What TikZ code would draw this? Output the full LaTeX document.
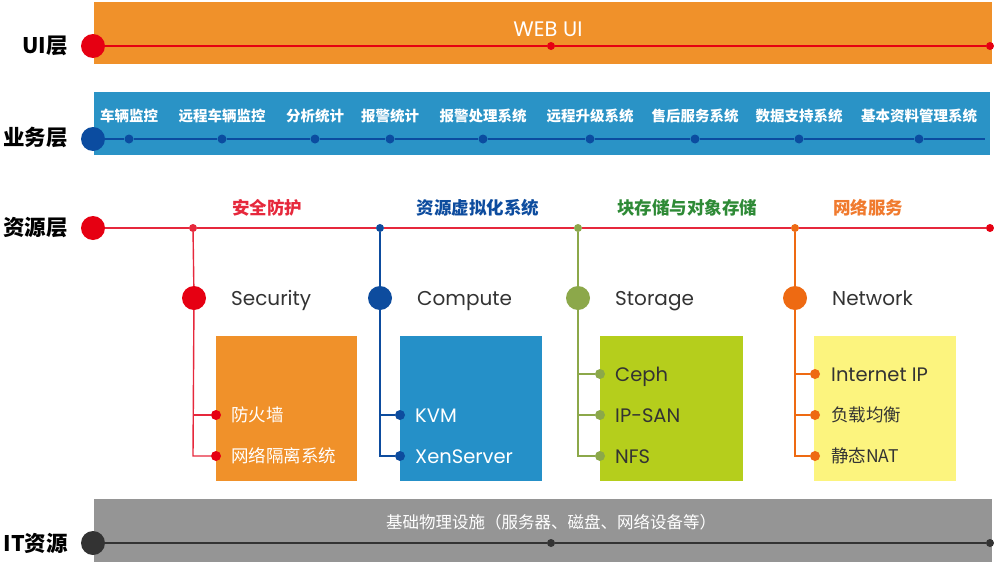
\documentclass[tikz,border=0pt]{standalone}
\usepackage{fontspec}
\setmainfont{Noto Sans CJK SC}
\newfontfamily\cjk{Noto Sans CJK SC}
\newfontfamily\lat{Poppins}
\definecolor{uiorange}{HTML}{F0912A}
\definecolor{uired}{HTML}{E60012}
\definecolor{resred}{HTML}{E6283C}
\definecolor{bizblue}{HTML}{2A93C6}
\definecolor{bizdark}{HTML}{0B4CA0}
\definecolor{secbox}{HTML}{F0912A}
\definecolor{compblue}{HTML}{0D4C9E}
\definecolor{compbox}{HTML}{2590C8}
\definecolor{storline}{HTML}{8CA84A}
\definecolor{storbox}{HTML}{B5CE1C}
\definecolor{stortext}{HTML}{2E8A36}
\definecolor{netorange}{HTML}{EE6A12}
\definecolor{netbox}{HTML}{FCF47E}
\definecolor{nettext}{HTML}{F07A2E}
\definecolor{itgray}{HTML}{959595}
\definecolor{darkline}{HTML}{333333}
\definecolor{txt}{HTML}{333333}
\begin{document}
\begin{tikzpicture}[x=1pt,y=-1pt,
  band/.style={rectangle,inner sep=0pt,draw=none},
  bigdot/.style={circle,inner sep=0pt,minimum size=24pt,fill=#1},
  smalldot/.style={circle,inner sep=0pt,minimum size=8pt,fill=#1},
  itemdot/.style={circle,inner sep=0pt,minimum size=10pt,fill=#1},
  layerlabel/.style={anchor=east,inner sep=0pt,text=black,font=\cjk\bfseries\fontsize{21.5}{21.5}\selectfont},
  biztext/.style={inner sep=0pt,text=white,font=\cjk\bfseries\fontsize{14.5}{14.5}\selectfont},
  header/.style={inner sep=0pt,font=\cjk\bfseries\fontsize{17.5}{17.5}\selectfont},
  colname/.style={anchor=base west,inner sep=0pt,text=txt,font=\lat\fontsize{20}{20}\selectfont},
  itemcjk/.style={anchor=base west,inner sep=0pt,font=\cjk\fontsize{17.5}{17.5}\selectfont},
  itemlat/.style={anchor=base west,inner sep=0pt,font=\lat\fontsize{19.5}{19.5}\selectfont},
  mainline/.style={line width=1.6pt},
  branch/.style={line width=1.4pt}
]
\useasboundingbox (0,0) rectangle (994,565);

% ---------- bands ----------
\node[band,fill=uiorange,minimum width=898pt,minimum height=62pt] (uiband) at (543,33) {};
\node[band,fill=bizblue,minimum width=896pt,minimum height=63pt] (bizband) at (542,123.5) {};
\node[band,fill=itgray,minimum width=898pt,minimum height=63pt] (itband) at (543,530.5) {};

% ---------- layer labels ----------
\node[layerlabel] (luil) at (68,46) {UI层};
\node[layerlabel] (lbiz) at (68,137) {业务层};
\node[layerlabel] (lres) at (68,228) {资源层};
\node[layerlabel] (lit) at (68,543) {IT资源};

% ---------- UI layer ----------
\node[bigdot=uired] (uic) at (93,46) {};
\node[smalldot=uired] (uimid) at (551,46) {};
\node[smalldot=uired] (uiend) at (990,46) {};
\draw[mainline,uired] (uic) -- (uimid) -- (uiend);
\node[inner sep=0pt,text=white,font=\lat\fontsize{21}{21}\selectfont] (webui) at (548,29) {WEB UI};

% ---------- business layer ----------
\node[bigdot=bizdark] (bizc) at (93,139) {};
\coordinate (bizend) at (985,139);
\foreach \x/\t [count=\i] in {129/车辆监控,222/远程车辆监控,315/分析统计,390/报警统计,483/报警处理系统,590/远程升级系统,695/售后服务系统,799/数据支持系统,919/基本资料管理系统}{
  \node[smalldot=bizdark,minimum size=9pt] (bd\i) at (\x,139) {};
  \node[biztext] (bt\i) at (\x,116) {\t};
}
\draw[mainline,bizdark] (bizc) -- (bd1);
\foreach \i [evaluate=\i as \j using int(\i+1)] in {1,...,8}{
  \draw[mainline,bizdark] (bd\i) -- (bd\j);
}
\draw[mainline,bizdark] (bd9) -- (bizend);

% ---------- resource layer ----------
\node[bigdot=uired] (resc) at (93,228) {};
\node[smalldot=resred] (rd1) at (193,228) {};
\node[smalldot=compblue] (rd2) at (380,228) {};
\node[smalldot=storline] (rd3) at (578,228) {};
\node[smalldot=netorange] (rd4) at (795,228) {};
\node[smalldot=uired] (resend) at (990,228) {};
\draw[mainline,resred] (resc) -- (rd1) -- (rd2) -- (rd3) -- (rd4) -- (resend);

\node[header,text=resred] (h1) at (267,208) {安全防护};
\node[header,text=compblue] (h2) at (478,208) {资源虚拟化系统};
\node[header,text=stortext] (h3) at (687,208) {块存储与对象存储};
\node[header,text=nettext] (h4) at (868,208) {网络服务};

% boxes
\node[band,fill=secbox,minimum width=141pt,minimum height=145pt] (box1) at (286.5,408.5) {};
\node[band,fill=compbox,minimum width=142pt,minimum height=145pt] (box2) at (471,408.5) {};
\node[band,fill=storbox,minimum width=143pt,minimum height=145pt] (box3) at (671.5,408.5) {};
\node[band,fill=netbox,minimum width=142pt,minimum height=145pt] (box4) at (885,408.5) {};

% column circles and names
\node[bigdot=uired] (c1) at (194,298) {};
\node[bigdot=compblue] (c2) at (380,298) {};
\node[bigdot=storline] (c3) at (578,298) {};
\node[bigdot=netorange] (c4) at (795,298) {};
\node[colname] (n1) at (231,305) {Security};
\node[colname] (n2) at (417,305) {Compute};
\node[colname] (n3) at (615,305) {Storage};
\node[colname] (n4) at (832,305) {Network};

% Security column
\node[itemdot=uired] (s1) at (216,415) {};
\node[itemdot=uired] (s2) at (216,456) {};
\coordinate (s1j) at (193,415);
\coordinate (s2j) at (193,456);
\draw[branch,resred] (rd1) -- (c1);
\draw[branch,resred] (c1) -- (s2j) -- (s2);
\draw[branch,resred] (s1j) -- (s1);
\node[itemcjk,text=white] (st1) at (231,421.5) {防火墙};
\node[itemcjk,text=white] (st2) at (231,462.5) {网络隔离系统};

% Compute column
\node[itemdot=compblue] (k1) at (400,415) {};
\node[itemdot=compblue] (k2) at (400,456) {};
\coordinate (k1j) at (380,415);
\coordinate (k2j) at (380,456);
\draw[branch,compblue] (rd2) -- (c2);
\draw[branch,compblue] (c2) -- (k2j) -- (k2);
\draw[branch,compblue] (k1j) -- (k1);
\node[itemlat,text=white] (kt1) at (415,422) {KVM};
\node[itemlat,text=white] (kt2) at (415,463) {XenServer};

% Storage column
\node[itemdot=storline] (g1) at (600,374) {};
\node[itemdot=storline] (g2) at (600,415) {};
\node[itemdot=storline] (g3) at (600,456) {};
\coordinate (g1j) at (578,374);
\coordinate (g2j) at (578,415);
\coordinate (g3j) at (578,456);
\draw[branch,storline] (rd3) -- (c3);
\draw[branch,storline] (c3) -- (g3j) -- (g3);
\draw[branch,storline] (g1j) -- (g1);
\draw[branch,storline] (g2j) -- (g2);
\node[itemlat,text=txt] (gt1) at (615,381) {Ceph};
\node[itemlat,text=txt] (gt2) at (615,422) {IP-SAN};
\node[itemlat,text=txt] (gt3) at (615,463) {NFS};

% Network column
\node[itemdot=netorange] (w1) at (815,374) {};
\node[itemdot=netorange] (w2) at (815,415) {};
\node[itemdot=netorange] (w3) at (815,456) {};
\coordinate (w1j) at (795,374);
\coordinate (w2j) at (795,415);
\coordinate (w3j) at (795,456);
\draw[branch,netorange] (rd4) -- (c4);
\draw[branch,netorange] (c4) -- (w3j) -- (w3);
\draw[branch,netorange] (w1j) -- (w1);
\draw[branch,netorange] (w2j) -- (w2);
\node[itemlat,text=txt] (wt1) at (831,381) {Internet IP};
\node[itemcjk,text=txt] (wt2) at (831,421.5) {负载均衡};
\node[itemcjk,text=txt] (wt3) at (831,462.5) {静态NAT};

% ---------- IT layer ----------
\node[bigdot=darkline] (itc) at (93,543) {};
\node[smalldot=darkline] (itmid) at (551,543) {};
\node[smalldot=darkline] (itend) at (990,543) {};
\draw[mainline,darkline] (itc) -- (itmid) -- (itend);
\node[inner sep=0pt,text=white,font=\cjk\fontsize{16.5}{16.5}\selectfont] (ittext) at (551,522) {基础物理设施（服务器、磁盘、网络设备等）};
\end{tikzpicture}
\end{document}
